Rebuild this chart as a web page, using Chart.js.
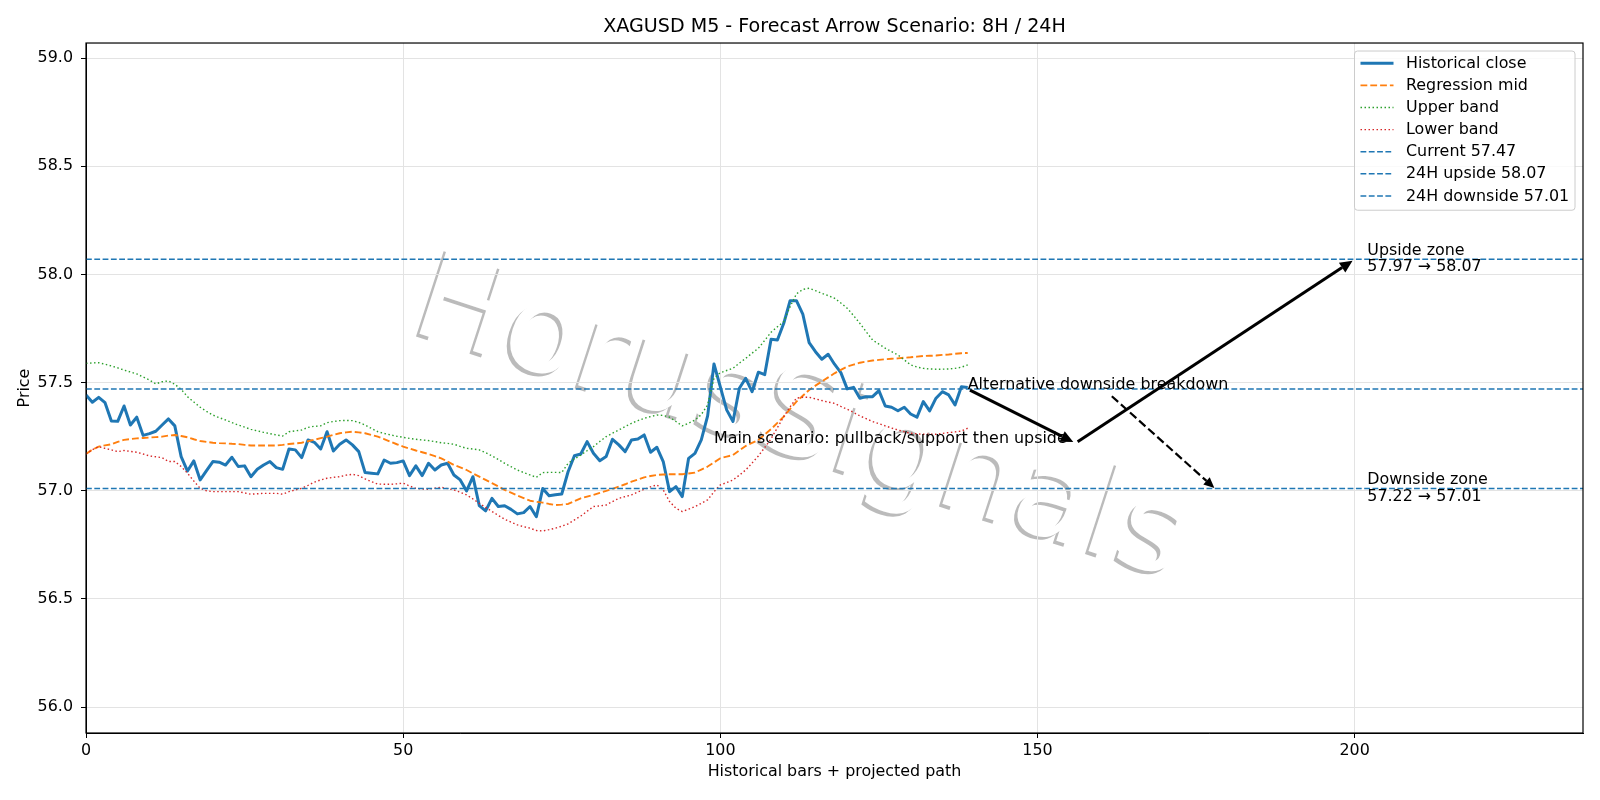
<!DOCTYPE html>
<html>
<head>
<meta charset="utf-8">
<title>XAGUSD M5 forecast</title>
<script src="https://cdn.jsdelivr.net/npm/chart.js@4.4.1/dist/chart.umd.min.js"></script>
<style>
    html, body { margin: 0; padding: 0; background: #fff; }
    canvas { display: block; }
</style>
</head>
<body>
<canvas id="forecastChart" width="1600" height="800"></canvas>
<script>
const chartTitle = "XAGUSD M5 - Forecast Arrow Scenario: 8H / 24H";

// bar index 0..139
const closePrices = [
    57.443, 57.409, 57.432, 57.407, 57.323, 57.321, 57.392, 57.304, 57.340, 57.256,
    57.264, 57.275, 57.304, 57.332, 57.300, 57.158, 57.091, 57.138, 57.050, 57.093,
    57.135, 57.132, 57.119, 57.155, 57.112, 57.115, 57.065, 57.099, 57.119, 57.135,
    57.107, 57.099, 57.193, 57.189, 57.153, 57.235, 57.224, 57.193, 57.273, 57.184,
    57.215, 57.235, 57.212, 57.181, 57.084, 57.081, 57.078, 57.142, 57.127, 57.130,
    57.138, 57.070, 57.115, 57.070, 57.127, 57.096, 57.119, 57.127, 57.073, 57.050,
    56.999, 57.065, 56.931, 56.907, 56.965, 56.927, 56.931, 56.914, 56.893, 56.899,
    56.927, 56.880, 57.010, 56.977, 56.981, 56.985, 57.088, 57.162, 57.170, 57.227,
    57.173, 57.139, 57.158, 57.238, 57.212, 57.181, 57.235, 57.239, 57.258, 57.178,
    57.201, 57.135, 56.996, 57.019, 56.973, 57.150, 57.173, 57.235, 57.346, 57.586,
    57.480, 57.374, 57.320, 57.474, 57.520, 57.458, 57.548, 57.537, 57.700, 57.697,
    57.774, 57.879, 57.879, 57.817, 57.685, 57.643, 57.608, 57.631, 57.585, 57.546,
    57.471, 57.478, 57.428, 57.435, 57.435, 57.463, 57.392, 57.386, 57.370, 57.386,
    57.355, 57.340, 57.412, 57.369, 57.428, 57.458, 57.443, 57.397, 57.481, 57.477
];

const midLine = [
    57.170, 57.190, 57.204, 57.210, 57.215, 57.226, 57.235, 57.239, 57.242, 57.244,
    57.246, 57.248, 57.250, 57.255, 57.258, 57.253, 57.247, 57.238, 57.230, 57.226,
    57.222, 57.220, 57.219, 57.217, 57.216, 57.212, 57.209, 57.209, 57.209, 57.209,
    57.209, 57.212, 57.216, 57.219, 57.222, 57.229, 57.236, 57.243, 57.250, 57.258,
    57.266, 57.270, 57.273, 57.270, 57.266, 57.258, 57.250, 57.239, 57.227, 57.215,
    57.204, 57.195, 57.186, 57.178, 57.170, 57.160, 57.150, 57.135, 57.119, 57.108,
    57.096, 57.080, 57.065, 57.050, 57.035, 57.020, 57.004, 56.991, 56.978, 56.966,
    56.954, 56.949, 56.945, 56.939, 56.934, 56.936, 56.939, 56.952, 56.965, 56.973,
    56.981, 56.990, 56.999, 57.009, 57.019, 57.030, 57.042, 57.052, 57.062, 57.068,
    57.073, 57.075, 57.076, 57.076, 57.076, 57.080, 57.084, 57.098, 57.112, 57.131,
    57.150, 57.158, 57.165, 57.186, 57.207, 57.221, 57.235, 57.260, 57.285, 57.314,
    57.343, 57.378, 57.412, 57.439, 57.466, 57.486, 57.505, 57.524, 57.543, 57.559,
    57.574, 57.583, 57.592, 57.597, 57.602, 57.605, 57.608, 57.610, 57.612, 57.615,
    57.617, 57.620, 57.623, 57.624, 57.625, 57.628, 57.630, 57.633, 57.636, 57.637
];

const upperBand = [
    57.589, 57.591, 57.592, 57.585, 57.577, 57.568, 57.558, 57.549, 57.540, 57.526,
    57.512, 57.494, 57.504, 57.508, 57.492, 57.469, 57.435, 57.410, 57.386, 57.367,
    57.350, 57.338, 57.327, 57.315, 57.304, 57.294, 57.284, 57.277, 57.270, 57.264,
    57.258, 57.253, 57.273, 57.277, 57.281, 57.293, 57.298, 57.300, 57.315, 57.320,
    57.324, 57.325, 57.324, 57.316, 57.304, 57.288, 57.273, 57.265, 57.258, 57.252,
    57.247, 57.242, 57.238, 57.235, 57.232, 57.227, 57.222, 57.219, 57.215, 57.205,
    57.196, 57.193, 57.189, 57.176, 57.161, 57.145, 57.127, 57.111, 57.096, 57.084,
    57.073, 57.062, 57.084, 57.085, 57.085, 57.084, 57.127, 57.147, 57.165, 57.185,
    57.204, 57.228, 57.250, 57.266, 57.281, 57.297, 57.312, 57.324, 57.335, 57.343,
    57.350, 57.348, 57.340, 57.320, 57.300, 57.312, 57.327, 57.352, 57.397, 57.520,
    57.546, 57.556, 57.566, 57.590, 57.612, 57.636, 57.659, 57.695, 57.733, 57.758,
    57.782, 57.851, 57.910, 57.931, 57.936, 57.925, 57.913, 57.902, 57.890, 57.868,
    57.844, 57.810, 57.774, 57.735, 57.697, 57.678, 57.659, 57.643, 57.628, 57.605,
    57.582, 57.572, 57.566, 57.563, 57.562, 57.562, 57.563, 57.566, 57.571, 57.582
];

const lowerBand = [
    57.170, 57.190, 57.204, 57.196, 57.189, 57.181, 57.186, 57.182, 57.178, 57.170,
    57.161, 57.157, 57.153, 57.135, 57.135, 57.112, 57.081, 57.045, 57.011, 57.000,
    56.996, 56.996, 56.996, 56.996, 56.996, 56.990, 56.984, 56.986, 56.988, 56.988,
    56.988, 56.984, 56.996, 57.004, 57.011, 57.025, 57.040, 57.050, 57.058, 57.062,
    57.065, 57.072, 57.076, 57.070, 57.055, 57.042, 57.031, 57.030, 57.030, 57.032,
    57.035, 57.022, 57.011, 57.008, 57.007, 57.012, 57.016, 57.010, 57.004, 56.993,
    56.981, 56.962, 56.942, 56.923, 56.904, 56.886, 56.868, 56.855, 56.842, 56.834,
    56.827, 56.816, 56.814, 56.820, 56.827, 56.836, 56.847, 56.865, 56.883, 56.905,
    56.927, 56.930, 56.934, 56.950, 56.965, 56.973, 56.981, 56.994, 57.007, 57.018,
    57.027, 57.004, 56.950, 56.919, 56.904, 56.915, 56.927, 56.942, 56.958, 56.995,
    57.027, 57.038, 57.050, 57.072, 57.096, 57.128, 57.161, 57.200, 57.240, 57.292,
    57.343, 57.388, 57.428, 57.432, 57.432, 57.425, 57.417, 57.410, 57.404, 57.390,
    57.377, 57.362, 57.346, 57.333, 57.320, 57.310, 57.300, 57.290, 57.281, 57.273,
    57.266, 57.263, 57.261, 57.261, 57.261, 57.265, 57.269, 57.272, 57.276, 57.289
];

const levelNames = ["Current 57.47", "24H upside 58.07", "24H downside 57.01"];
const levelValues = [57.47, 58.07, 57.01];

const xLimits = [0, 236];
const yLimits = [55.88, 59.07];
const xTicks = [0, 50, 100, 150, 200];
const yTicks = [56.0, 56.5, 57.0, 57.5, 58.0, 58.5, 59.0];

// projected path: 8H pullback then 24H target, plus the alternative leg
const mainPathX = [139, 156, 200];
const mainPathY = [57.47, 57.22, 58.07];
const altPathX = [161.6, 178];
const altPathY = [57.44, 57.01];

const mainNote = "Main scenario: pullback/support then upside";
const mainNoteAt = [99, 57.22];
const altNote = "Alternative downside breakdown";
const altNoteAt = [139, 57.47];
const zoneNotes = [["Upside zone", "57.97 → 58.07"], ["Downside zone", "57.22 → 57.01"]];
const zoneNoteX = 202;
const zoneNoteY = [58.07, 57.01];

const watermark = "HorusSignals";

const FONT = "'DejaVu Sans', sans-serif";
const TEXT_SIZE = 15.9;
const BLUE = "#1f77b4";

const toPoints = values => values.map((v, i) => ({ x: i, y: v }));
const spanLine = level => xLimits.map(x => ({ x: x, y: level }));

const datasets = [
    { label: "Historical close", data: toPoints(closePrices), borderColor: BLUE, borderWidth: 3, order: 7 },
    { label: "Regression mid", data: toPoints(midLine), borderColor: "#ff7f0e", borderWidth: 1.9, borderDash: [6.8, 3], order: 6 },
    { label: "Upper band", data: toPoints(upperBand), borderColor: "#2ca02c", borderWidth: 1.4, borderDash: [1.5, 2.5], order: 5 },
    { label: "Lower band", data: toPoints(lowerBand), borderColor: "#d62728", borderWidth: 1.4, borderDash: [1.5, 2.5], order: 4 }
];

levelValues.forEach((level, i) => {
    datasets.push({
        label: levelNames[i],
        data: spanLine(level),
        borderColor: BLUE,
        borderWidth: 1.5,
        borderDash: [5.8, 2.5],
        order: 3 - i
    });
});

function drawArrow(ctx, x0, y0, x1, y1, opts) {
    const dx = x1 - x0;
    const dy = y1 - y0;
    const len = Math.hypot(dx, dy);
    const ux = dx / len;
    const uy = dy / len;

    const sx = x0 + ux * opts.shrink;
    const sy = y0 + uy * opts.shrink;
    const tx = x1 - ux * opts.shrink;
    const ty = y1 - uy * opts.shrink;
    const bx = tx - ux * opts.head;
    const by = ty - uy * opts.head;

    ctx.save();
    ctx.strokeStyle = "#000";
    ctx.fillStyle = "#000";
    ctx.lineWidth = opts.width;
    ctx.setLineDash(opts.dash || []);
    ctx.beginPath();
    ctx.moveTo(sx, sy);
    ctx.lineTo(bx, by);
    ctx.stroke();

    ctx.setLineDash([]);
    ctx.beginPath();
    ctx.moveTo(tx, ty);
    ctx.lineTo(bx - uy * opts.half, by + ux * opts.half);
    ctx.lineTo(bx + uy * opts.half, by - ux * opts.half);
    ctx.closePath();
    ctx.fill();
    ctx.restore();
}

const backdropPlugin = {
    id: "backdrop",
    beforeDraw(chart) {
        const { ctx, width, height } = chart;
        ctx.save();
        ctx.fillStyle = "#fff";
        ctx.fillRect(0, 0, width, height);

        ctx.translate(width * 0.255, height * 0.4125);
        ctx.rotate(18 * Math.PI / 180);
        ctx.font = "123px " + FONT;
        ctx.textAlign = "left";
        ctx.textBaseline = "alphabetic";
        ctx.fillStyle = "rgba(120, 120, 120, 0.5)";
        ctx.fillText(watermark, -2.5, 3.8);
        ctx.fillStyle = "#fff";
        ctx.fillText(watermark, 0, 0);
        ctx.restore();
    }
};

const notesPlugin = {
    id: "scenarioNotes",
    afterDatasetsDraw(chart) {
        const { ctx, chartArea, scales: { x, y } } = chart;

        ctx.save();
        ctx.strokeStyle = "#000";
        ctx.lineWidth = 1.2;
        ctx.strokeRect(chartArea.left, chartArea.top, chartArea.right - chartArea.left, chartArea.bottom - chartArea.top);

        ctx.fillStyle = "#000";
        ctx.font = TEXT_SIZE + "px " + FONT;
        ctx.textAlign = "left";
        ctx.textBaseline = "alphabetic";
        ctx.fillText(mainNote, x.getPixelForValue(mainNoteAt[0]), y.getPixelForValue(mainNoteAt[1]));
        ctx.fillText(altNote, x.getPixelForValue(altNoteAt[0]), y.getPixelForValue(altNoteAt[1]));

        zoneNotes.forEach((lines, i) => {
            const px = x.getPixelForValue(zoneNoteX);
            const py = y.getPixelForValue(zoneNoteY[i]);
            ctx.fillText(lines[0], px, py - 4.5);
            ctx.fillText(lines[1], px, py + 12);
        });
        ctx.restore();

        for (let i = 0; i < mainPathX.length - 1; i++) {
            drawArrow(ctx,
                x.getPixelForValue(mainPathX[i]), y.getPixelForValue(mainPathY[i]),
                x.getPixelForValue(mainPathX[i + 1]), y.getPixelForValue(mainPathY[i + 1]),
                { width: 3, shrink: 2.5, head: 12.5, half: 5.8 });
        }

        drawArrow(ctx,
            x.getPixelForValue(altPathX[0]), y.getPixelForValue(altPathY[0]),
            x.getPixelForValue(altPathX[1]), y.getPixelForValue(altPathY[1]),
            { width: 2.2, shrink: 1, head: 10.5, half: 4.8, dash: [8.5, 3.7] });
    }
};

const legendPlugin = {
    id: "insideLegend",
    afterDraw(chart) {
        const { ctx, chartArea } = chart;
        const boxRight = chartArea.right - 8;
        const boxLeft = boxRight - 220.5;
        const boxTop = chartArea.top + 8;
        const rowGap = 22.1;
        const items = chart.data.datasets;
        const boxHeight = rowGap * items.length + 4.5;

        ctx.save();
        ctx.fillStyle = "rgba(255, 255, 255, 0.8)";
        ctx.strokeStyle = "#cccccc";
        ctx.lineWidth = 1;
        ctx.beginPath();
        ctx.roundRect(boxLeft, boxTop, boxRight - boxLeft, boxHeight, 3);
        ctx.fill();
        ctx.stroke();

        ctx.font = TEXT_SIZE + "px " + FONT;
        ctx.textAlign = "left";
        ctx.textBaseline = "middle";

        items.forEach((ds, i) => {
            const cy = boxTop + 12.3 + i * rowGap;
            ctx.strokeStyle = ds.borderColor;
            ctx.lineWidth = ds.borderWidth;
            ctx.setLineDash(ds.borderDash || []);
            ctx.beginPath();
            ctx.moveTo(boxLeft + 6, cy);
            ctx.lineTo(boxLeft + 39, cy);
            ctx.stroke();

            ctx.setLineDash([]);
            ctx.fillStyle = "#000";
            ctx.fillText(ds.label, boxLeft + 51.5, cy + 0.5);
        });
        ctx.restore();
    }
};

const tickFont = { family: FONT, size: TEXT_SIZE };

const forecastChart = new Chart(document.getElementById("forecastChart"), {
    type: "line",
    data: { datasets: datasets },
    options: {
        responsive: false,
        animation: false,
        devicePixelRatio: 1,
        layout: { padding: { left: 0, right: 17, top: 0, bottom: 0 } },
        elements: {
            point: { radius: 0, hoverRadius: 0 },
            line: { tension: 0, fill: false, borderJoinStyle: "round" }
        },
        plugins: {
            legend: { display: false },
            tooltip: { enabled: false },
            title: {
                display: true,
                text: chartTitle,
                fullSize: false,
                color: "#000",
                font: { family: FONT, size: 19.1, weight: "normal", lineHeight: 1.2 },
                padding: { top: 16, bottom: 4.1 }
            }
        },
        scales: {
            x: {
                type: "linear",
                min: xLimits[0],
                max: xLimits[1],
                afterBuildTicks: scale => {
                    scale.ticks = xTicks.map(v => ({ value: v }));
                },
                afterFit: scale => {
                    scale.height = 67;
                },
                ticks: {
                    color: "#000",
                    font: tickFont,
                    padding: 3,
                    maxRotation: 0,
                    callback: value => String(value)
                },
                grid: { color: "#e3e3e3", lineWidth: 1, tickColor: "#000", tickLength: 5 },
                border: { display: true, color: "#000", width: 1 },
                title: {
                    display: true,
                    text: "Historical bars + projected path",
                    color: "#000",
                    font: { family: FONT, size: TEXT_SIZE, lineHeight: 1.2 },
                    padding: { top: 0, bottom: 18.8 }
                }
            },
            y: {
                type: "linear",
                min: yLimits[0],
                max: yLimits[1],
                afterBuildTicks: scale => {
                    scale.ticks = yTicks.map(v => ({ value: v }));
                },
                afterFit: scale => {
                    scale.width = 86;
                },
                ticks: {
                    color: "#000",
                    font: tickFont,
                    padding: 8,
                    callback: value => Number(value).toFixed(1)
                },
                grid: { color: "#e3e3e3", lineWidth: 1, tickColor: "#000", tickLength: 5 },
                border: { display: true, color: "#000", width: 1 },
                title: {
                    display: true,
                    text: "Price",
                    color: "#000",
                    font: { family: FONT, size: TEXT_SIZE, lineHeight: 1.2 },
                    padding: { top: 15.5, bottom: 0 }
                }
            }
        }
    },
    plugins: [backdropPlugin, notesPlugin, legendPlugin]
});
</script>
</body>
</html>
